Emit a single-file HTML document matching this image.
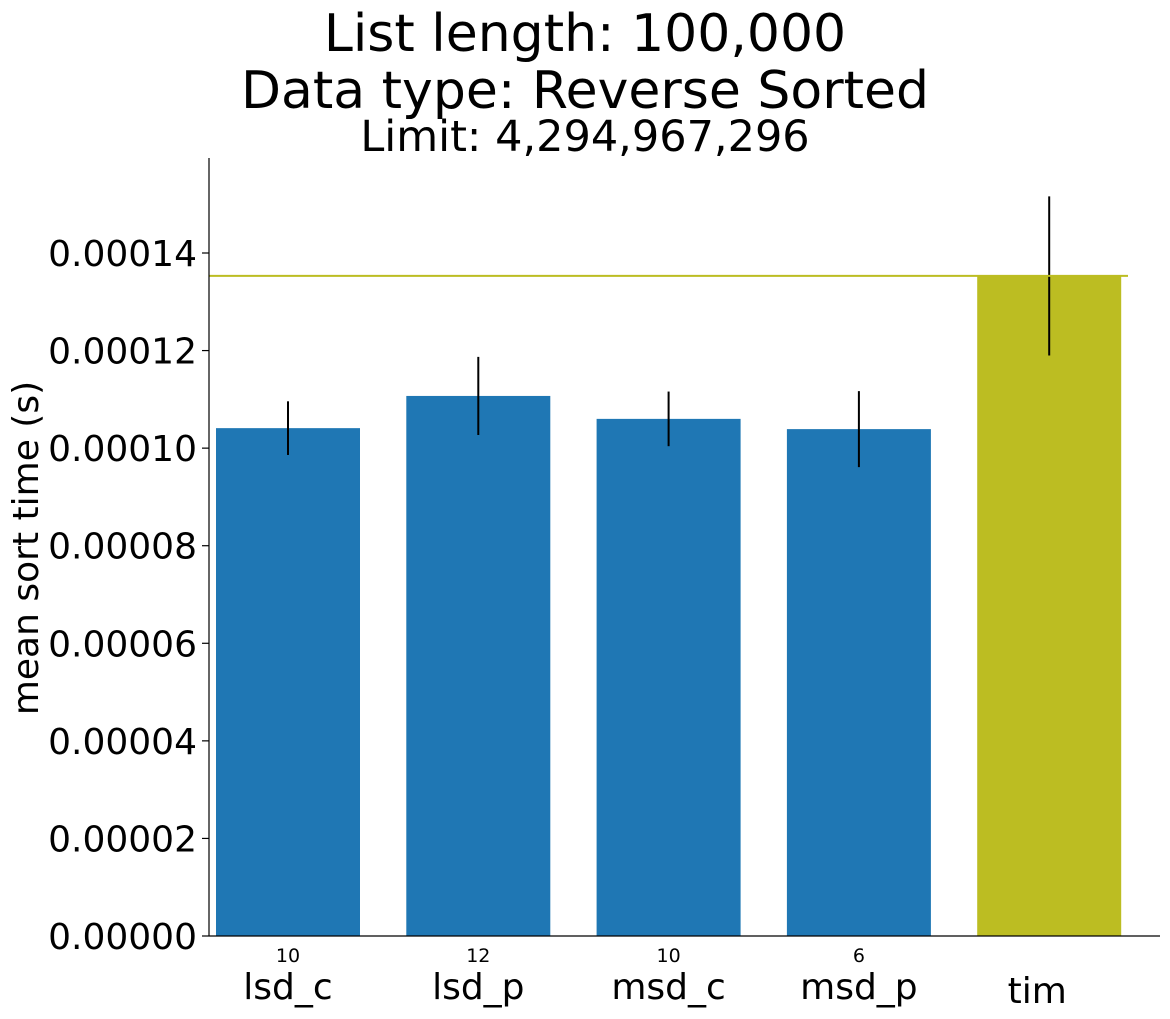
<!DOCTYPE html>
<html><head><meta charset="utf-8"><style>
html,body{margin:0;padding:0;background:#fff}
svg{display:block;font-family:"DejaVu Sans","Liberation Sans",sans-serif}
</style></head><body>
<svg id="chart" width="1170" height="1019" xmlns="http://www.w3.org/2000/svg">
<text x="585" y="51" font-size="52" text-anchor="middle">List length: 100,000</text>
<text x="585" y="108" font-size="52" text-anchor="middle">Data type: Reverse Sorted</text>
<text x="585" y="151" font-size="43" text-anchor="middle">Limit: 4,294,967,296</text>
<text transform="translate(38,548) rotate(-90)" font-size="36" text-anchor="middle">mean sort time (s)</text>
<g id="plot"></g>
</svg>
<script>
const categories = ["lsd_c","lsd_p","msd_c","msd_p","tim"];
const values = [0.0001041, 0.0001107, 0.0001060, 0.0001039, 0.0001353];
const errors = [0.0000055, 0.0000080, 0.0000056, 0.0000078, 0.0000163];
const counts = ["10","12","10","6",""];
const colors = ["#1f77b4","#1f77b4","#1f77b4","#1f77b4","#bcbd22"];
const yTicks = [0,0.00002,0.00004,0.00006,0.00008,0.0001,0.00012,0.00014];
const refValue = 0.0001353;

const NS="http://www.w3.org/2000/svg";
const g=document.getElementById('plot');
const x0=209, x1=1160, yBase=936, pxPerUnit=(936-253)/0.00014;
const y=v=>yBase-v*pxPerUnit;
const xc=i=>288+i*190.3;
const bw=144;
function mk(tag,attrs,text){const e=document.createElementNS(NS,tag);for(const k in attrs)e.setAttribute(k,attrs[k]);if(text!==undefined)e.textContent=text;g.appendChild(e);return e;}

categories.forEach((c,i)=>{
  const b=mk('rect',{x:xc(i)-bw/2,y:y(values[i]),width:bw,height:yBase-y(values[i]),fill:colors[i]});
  
  
  const e=mk('line',{x1:xc(i),x2:xc(i),y1:y(values[i]+errors[i]),y2:y(values[i]-errors[i]),stroke:'#000','stroke-width':2});
  
  
  if(counts[i]){
    const t=mk('text',{x:xc(i),y:962,'font-size':19,'text-anchor':'middle'},counts[i]);
    
    
  }
  const l=mk('text',{x:i===4?xc(i)-12:xc(i),y:i===4?1003:999,'font-size':36,'text-anchor':'middle'},c);
  
  
});
const ref=mk('line',{x1:x0,x2:1128,y1:y(refValue),y2:y(refValue),stroke:'#bcbd22','stroke-width':2});



yTicks.forEach(v=>{
  const tk=mk('line',{x1:x0-7,x2:x0,y1:y(v),y2:y(v),stroke:'#000','stroke-width':1.2});
  
  
  const t=mk('text',{x:197,y:y(v)+13,'font-size':36,'text-anchor':'end'},v.toFixed(5));
  
  
});
const ya=mk('line',{x1:x0,x2:x0,y1:158,y2:yBase,stroke:'#000','stroke-width':1.2});


const xa=mk('line',{x1:x0,x2:x1,y1:yBase,y2:yBase,stroke:'#000','stroke-width':1.2});


</script>
</body></html>
